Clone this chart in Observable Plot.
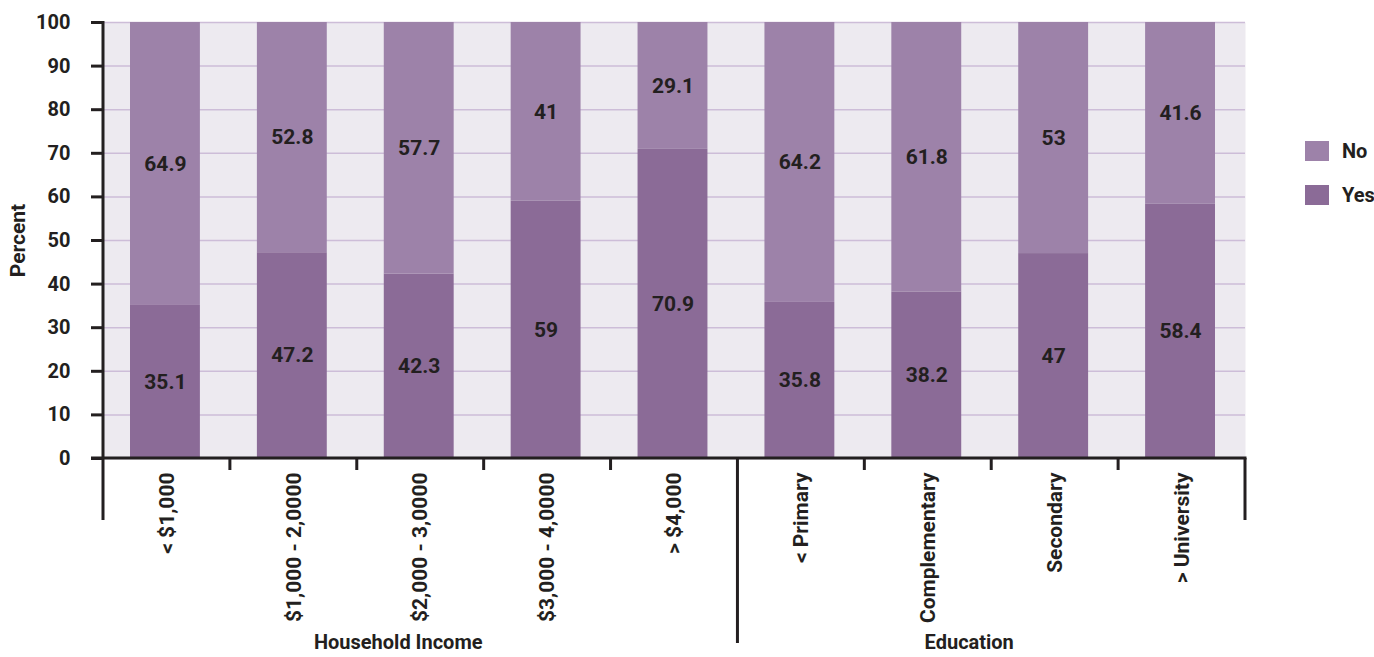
<!DOCTYPE html>
<html>
<head>
<meta charset="utf-8">
<script src="https://cdn.jsdelivr.net/npm/d3@7"></script>
<script src="https://cdn.jsdelivr.net/npm/@observablehq/plot@0.6"></script>
<style>
  html, body { margin: 0; padding: 0; background: #fff; }
  #wrap { position: relative; width: 1374px; height: 657px; font-family: Roboto, "Liberation Sans", sans-serif; }
  .legend { position: absolute; left: 1305px; top: 141px; font-weight: bold; font-size: 20px; color: #231f20; }
  .legend .item { display: flex; align-items: center; height: 20px; margin-bottom: 24px; }
  .legend .sw { width: 24px; height: 20px; margin-right: 13px; }
</style>
</head>
<body>
<div id="wrap"></div>
<script>
const categories = ["< $1,000", "$1,000 - 2,0000", "$2,000 - 3,0000", "$3,000 - 4,0000", "> $4,000",
                    "< Primary", "Complementary", "Secondary", "> University"];
const groups = ["Household Income", "Household Income", "Household Income", "Household Income", "Household Income",
                "Education", "Education", "Education", "Education"];
const yesValues = [35.1, 47.2, 42.3, 59, 70.9, 35.8, 38.2, 47, 58.4];
const noValues  = [64.9, 52.8, 57.7, 41, 29.1, 64.2, 61.8, 53, 41.6];
const series = ["Yes", "No"];
const yTicks = [0, 10, 20, 30, 40, 50, 60, 70, 80, 90, 100];

const colors = {Yes: "#8b6b97", No: "#9d82a9"};
const ink = "#231f20";
const font = "Roboto, 'Liberation Sans', sans-serif";
const fs = 21;

const rows = [];
categories.forEach((c, i) => rows.push({cat: c, series: "Yes", value: yesValues[i]}));
categories.forEach((c, i) => rows.push({cat: c, series: "No", value: noValues[i]}));

const groupNames = [...new Set(groups)];

function decorations(index, scales) {
  const x = scales.x, y = scales.y;
  const bw = x.bandwidth ? x.bandwidth() : (x(categories[1]) - x(categories[0]));
  const y0 = y(0), yTop = y(100);
  const g = d3.create("svg:g");
  const lines = g.append("g").attr("stroke", ink).attr("stroke-width", 3).attr("fill", "none");
  const bounds = categories.map(c => x(c)).concat([x(categories[categories.length - 1]) + bw]);
  lines.append("line").attr("x1", bounds[0]).attr("x2", bounds[0]).attr("y1", yTop - 1).attr("y2", y0 + 62);
  lines.append("line").attr("x1", bounds[0] - 12).attr("x2", bounds[bounds.length - 1] + 1.5).attr("y1", y0).attr("y2", y0);
  bounds.forEach((bx, i) => {
    if (i === 0) return;
    let len = 12;
    if (i === bounds.length - 1) len = 62;
    else if (groups[i] !== groups[i - 1]) len = 185;
    lines.append("line").attr("x1", bx).attr("x2", bx).attr("y1", y0).attr("y2", y0 + len);
  });
  groupNames.forEach(name => {
    const idx = groups.map((gname, i) => gname === name ? i : -1).filter(i => i >= 0);
    const cx = (bounds[idx[0]] + bounds[idx[idx.length - 1] + 1]) / 2;
    g.append("text").attr("x", cx - 22).attr("y", y0 + 186)
      .attr("text-anchor", "middle").attr("dominant-baseline", "middle")
      .attr("fill", ink).attr("font-family", font).attr("font-weight", "bold").attr("font-size", 20)
      .text(name);
  });
  return g.node();
}

const chart = Plot.plot({
  width: 1374,
  height: 657,
  marginLeft: 103,
  marginRight: 129,
  marginTop: 22,
  marginBottom: 199,
  style: {fontFamily: font, fontWeight: "bold", fontSize: "20px", color: ink, background: "transparent"},
  x: {domain: categories, padding: 0, round: false, axis: null},
  y: {domain: [0, 100], axis: null},
  color: {domain: series, range: [colors.Yes, colors.No]},
  marks: [
    Plot.frame({fill: "#edeaf0", stroke: null}),
    Plot.gridY(yTicks, {stroke: "#cdbdd8", strokeOpacity: 1, strokeWidth: 1.5}),
    Plot.barY(rows, Plot.stackY({x: "cat", y: "value", fill: "series", insetLeft: 27, insetRight: 30})),
    Plot.text(rows, Plot.stackY({x: "cat", y: "value", text: d => String(d.value), dx: -1.5, fill: ink, fontSize: fs, fontWeight: "bold"})),
    Plot.axisY(yTicks, {tickSize: 12, tickPadding: 21, strokeWidth: 3, stroke: ink, fill: ink, fontSize: 20, fontWeight: "bold", label: null}),
    Plot.text(categories, {x: d => d, frameAnchor: "bottom", dy: 14, rotate: -90, textAnchor: "end", lineAnchor: "middle", fill: ink, fontSize: fs, fontWeight: "bold"}),
    Plot.text(["Percent"], {frameAnchor: "left", dx: -85, rotate: -90, textAnchor: "middle", lineAnchor: "middle", fill: ink, fontSize: fs, fontWeight: "bold"}),
    decorations
  ]
});

const wrap = document.getElementById("wrap");
wrap.appendChild(chart);
const legend = document.createElement("div");
legend.className = "legend";
["No", "Yes"].forEach(s => {
  const item = document.createElement("div");
  item.className = "item";
  const sw = document.createElement("span");
  sw.className = "sw";
  sw.style.background = colors[s];
  const lab = document.createElement("span");
  lab.textContent = s;
  item.appendChild(sw);
  item.appendChild(lab);
  legend.appendChild(item);
});
wrap.appendChild(legend);
</script>
</body>
</html>
